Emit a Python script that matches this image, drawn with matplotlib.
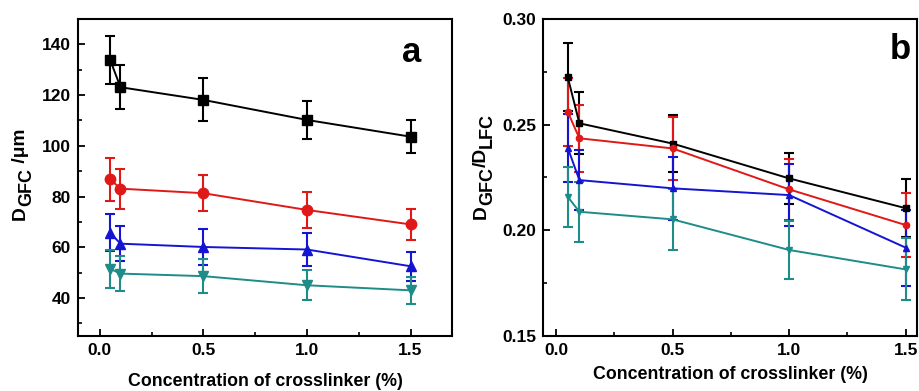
import matplotlib
matplotlib.use("Agg")
import matplotlib.pyplot as plt
from matplotlib.ticker import MultipleLocator, FormatStrFormatter
from matplotlib.transforms import IdentityTransform

plt.rcParams['font.family'] = ['Liberation Sans', 'DejaVu Sans']
plt.rcParams['font.weight'] = 'bold'

conc = [0.05, 0.1, 0.5, 1.0, 1.5]

# Panel a: D_GFC (um)
a_black = [133.9, 123.1, 118.1, 110.2, 103.6]
a_black_err = [9.4, 8.6, 8.5, 7.5, 6.5]
a_red = [86.8, 83.1, 81.3, 74.7, 69.0]
a_red_err = [8.4, 7.9, 7.2, 7.0, 6.2]
a_blue = [65.7, 61.4, 60.1, 59.1, 52.5]
a_blue_err = [7.3, 7.0, 7.2, 6.6, 5.7]
a_teal = [51.5, 49.6, 48.6, 45.0, 43.0]
a_teal_err = [7.6, 7.0, 6.8, 6.0, 5.3]

# Panel b: D_GFC / D_LFC
b_black = [0.2725, 0.2506, 0.2410, 0.2245, 0.2104]
b_black_err = [0.016, 0.0147, 0.0135, 0.0122, 0.0136]
b_red = [0.2560, 0.2435, 0.2387, 0.2193, 0.2024]
b_red_err = [0.016, 0.016, 0.015, 0.0145, 0.0153]
b_blue = [0.2390, 0.2237, 0.2198, 0.2166, 0.1917]
b_blue_err = [0.016, 0.0142, 0.0148, 0.0148, 0.018]
b_teal = [0.2158, 0.2087, 0.2051, 0.1906, 0.1814]
b_teal_err = [0.0142, 0.0142, 0.0145, 0.0137, 0.0147]

xlabel_text = 'Concentration of crosslinker (%)'
ylabel_a = [('D', 0), ('GFC', 1), (' /μm', 0)]
ylabel_b = [('D', 0), ('GFC', 1), ('/D', 0), ('LFC', 1)]

colors = {'black': '#000000', 'red': '#e01818', 'blue': '#1414d2', 'teal': '#1e8c88'}
markers = {'black': 's', 'red': 'o', 'blue': '^', 'teal': 'v'}

fig = plt.figure(figsize=(9.2, 3.91), dpi=100)
ax1 = fig.add_axes([0.0848, 0.1407, 0.4065, 0.8107])
ax2 = fig.add_axes([0.5905, 0.1414, 0.4059, 0.8100])

series_a = [('black', a_black, a_black_err), ('red', a_red, a_red_err),
            ('blue', a_blue, a_blue_err), ('teal', a_teal, a_teal_err)]
series_b = [('black', b_black, b_black_err), ('red', b_red, b_red_err),
            ('blue', b_blue, b_blue_err), ('teal', b_teal, b_teal_err)]

for name, y, e in series_a:
    ax1.errorbar(conc, y, yerr=e, color=colors[name], marker=markers[name],
                 markersize=7.5, linewidth=1.4, elinewidth=1.5, capsize=3.5,
                 capthick=1.5)
for name, y, e in series_b:
    ax2.errorbar(conc, y, yerr=e, color=colors[name], marker=markers[name],
                 markersize=4.5, linewidth=1.4, elinewidth=1.5, capsize=3.5,
                 capthick=1.5)

ax1.set_xlim(-0.105, 1.70)
ax1.set_ylim(25, 150)
ax1.xaxis.set_major_locator(MultipleLocator(0.5))
ax1.xaxis.set_minor_locator(MultipleLocator(0.25))
ax1.yaxis.set_minor_locator(MultipleLocator(10))
ax1.set_yticks([40, 60, 80, 100, 120, 140])
ax1.xaxis.set_major_formatter(FormatStrFormatter('%.1f'))

ax2.set_xlim(-0.055, 1.547)
ax2.set_ylim(0.15, 0.30)
ax2.xaxis.set_major_locator(MultipleLocator(0.5))
ax2.xaxis.set_minor_locator(MultipleLocator(0.25))
ax2.yaxis.set_major_locator(MultipleLocator(0.05))
ax2.yaxis.set_minor_locator(MultipleLocator(0.025))
ax2.xaxis.set_major_formatter(FormatStrFormatter('%.1f'))
ax2.yaxis.set_major_formatter(FormatStrFormatter('%.2f'))

for ax, lp in ((ax1, 11), (ax2, 6)):
    for sp in ax.spines.values():
        sp.set_linewidth(1.5)
    ax.tick_params(which='major', direction='in', length=5, width=1.3,
                   labelsize=12.5, top=False, right=False, pad=5)
    ax.tick_params(which='minor', direction='in', length=3, width=1.2,
                   top=False, right=False)
    ax.set_xlabel(xlabel_text, fontsize=12.8, fontweight='bold', labelpad=lp)
    for lbl in ax.get_xticklabels() + ax.get_yticklabels():
        lbl.set_fontweight('bold')


def rot_label(x, y0, pieces, size_main=13.8, size_sub=13, shift=6):
    renderer = fig.canvas.get_renderer()
    y = y0
    for txt, is_sub in pieces:
        t = fig.text(x + (shift if is_sub else 0), y, txt, rotation=90,
                     rotation_mode='anchor', ha='left', va='baseline',
                     fontsize=size_sub if is_sub else size_main,
                     fontweight='bold', transform=IdentityTransform())
        bb = t.get_window_extent(renderer)
        y += bb.height


rot_label(25, 391 - 220, ylabel_a)
rot_label(486, 391 - 219, ylabel_b)

ax1.text(0.893, 0.895, 'a', transform=ax1.transAxes, fontsize=25,
         fontweight='bold', ha='center', va='center')
ax2.text(0.955, 0.905, 'b', transform=ax2.transAxes, fontsize=25,
         fontweight='bold', ha='center', va='center')

fig.savefig('out.png', dpi=100)
